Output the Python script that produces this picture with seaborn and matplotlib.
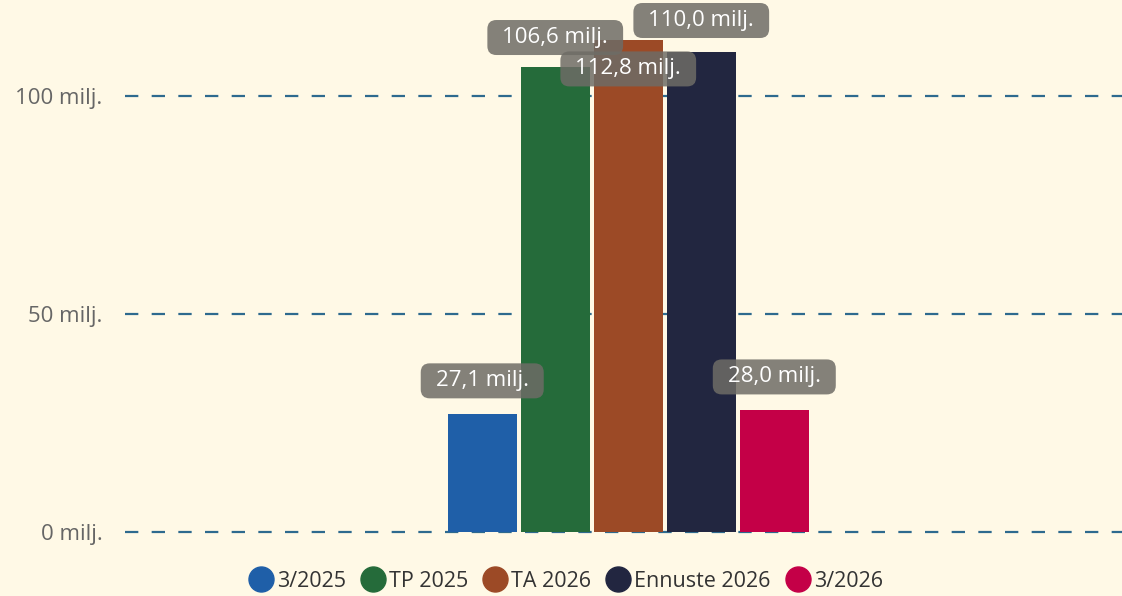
import pandas as pd
import seaborn as sns
import matplotlib.pyplot as plt
from matplotlib.lines import Line2D
from matplotlib.patches import FancyBboxPatch

# Data
series = ['3/2025', 'TP 2025', 'TA 2026', 'Ennuste 2026', '3/2026']
values = [27.1, 106.6, 112.8, 110.0, 28.0]
labels = ['27,1 milj.', '106,6 milj.', '112,8 milj.', '110,0 milj.', '28,0 milj.']
colors = ['#1F5FA8', '#256B3A', '#9C4A26', '#222640', '#C40047']
yticks = [0, 50, 100]

bg = '#FFF9E6'
df = pd.DataFrame({'cat': [''] * len(series), 'series': series, 'value': values})

sns.set_style('white')
plt.rcParams['font.family'] = ['Open Sans', 'DejaVu Sans']

fig = plt.figure(figsize=(11.22, 5.96), dpi=100, facecolor=bg)
ax = fig.add_axes([0.111, 0.107, 0.889, 0.893])
ax.set_facecolor(bg)

sns.barplot(data=df, x='cat', y='value', hue='series', hue_order=series,
            palette=colors, width=0.366, gap=0.06, saturation=1,
            linewidth=0, legend=False, ax=ax)

ax.set_xlim(-0.505, 0.495)
ax.set_ylim(0, 122)
ax.set_yticks(yticks)
ax.set_yticklabels([f'{t} milj.' for t in yticks], color='#666666', fontsize=16)
ax.tick_params(axis='y', length=0, pad=16)
ax.set_xticks([])
ax.set_xlabel('')
ax.set_ylabel('')
for s in ax.spines.values():
    s.set_visible(False)

# dashed gridlines
for t in yticks:
    ax.axhline(t, color='#2E6A8E', lw=1.6, ls=(0, (6, 6)), zorder=0, clip_on=False)

# value labels (middle one pushed down to avoid overlap)
shift = [7.6, 6.8, -6.6, 7.3, 7.6]
texts = []
for bar, lab, dy in zip(ax.patches, labels, shift):
    x = bar.get_x() + bar.get_width() / 2
    y = bar.get_height() + dy
    texts.append(ax.text(x, y, lab, ha='center', va='center', color='white',
                         fontsize=16, zorder=6, clip_on=False))

# rounded label boxes, sized from the rendered text
fig.canvas.draw()
inv = fig.transFigure.inverted()
for t in texts:
    bb = t.get_window_extent()
    cy = (bb.y0 + bb.y1) / 2
    x0, y0 = inv.transform((bb.x0 - 15, cy - 17.5))
    x1, y1 = inv.transform((bb.x1 + 15, cy + 17.5))
    box = FancyBboxPatch((x0, y0), x1 - x0, y1 - y0,
                         boxstyle='round,pad=0,rounding_size=0.008',
                         transform=fig.transFigure, fc='#6E6C66', ec='none',
                         alpha=0.85, zorder=5, mutation_aspect=1.88)
    ax.add_artist(box)
    box.set_clip_on(False)

handles = [Line2D([], [], marker='o', ls='', color=c, markersize=18) for c in colors]
fig.legend(handles, series, loc='lower center', ncol=5, frameon=False,
           bbox_to_anchor=(0.5, -0.025), fontsize=15.5, handletextpad=-0.25,
           columnspacing=0.25, labelcolor='#333333')

fig.savefig('out.png', dpi=100, facecolor=bg)
